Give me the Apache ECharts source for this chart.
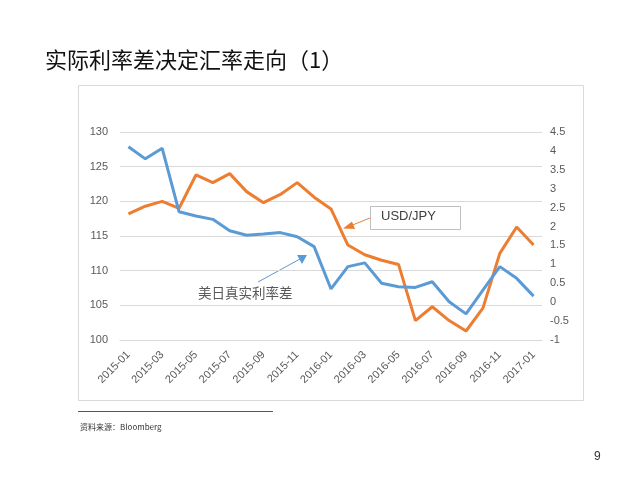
<!DOCTYPE html>
<html>
<head>
<meta charset="utf-8">
<script src="https://cdn.jsdelivr.net/npm/echarts@6/dist/echarts.min.js"></script>
<style>
  html, body { margin: 0; padding: 0; background: #fff; }
  #main { width: 640px; height: 495px; }
</style>
</head>
<body>
<div id="main"></div>
<script>
// 月份
const months = ['2015-01', '2015-02', '2015-03', '2015-04', '2015-05', '2015-06', '2015-07',
  '2015-08', '2015-09', '2015-10', '2015-11', '2015-12', '2016-01', '2016-02', '2016-03',
  '2016-04', '2016-05', '2016-06', '2016-07', '2016-08', '2016-09', '2016-10', '2016-11',
  '2016-12', '2017-01']
// USD/JPY（左轴）
const usdJpy = [118.2, 119.3, 120.0, 119.0, 123.8, 122.7, 124.0, 121.4, 119.8, 121.0, 122.7,
  120.6, 118.9, 113.7, 112.3, 111.5, 110.9, 102.8, 104.8, 102.8, 101.3, 104.6, 112.5, 116.3, 113.7]
// 美日真实利率差（右轴）
const rateDiff = [4.11, 3.79, 4.07, 2.39, 2.28, 2.19, 1.89, 1.77, 1.80, 1.84, 1.73, 1.47,
  0.35, 0.94, 1.04, 0.50, 0.41, 0.39, 0.54, 0.01, -0.31, 0.32, 0.94, 0.63, 0.16]

const chart = echarts.init(document.getElementById('main'))
const axisText = { color: '#595959', fontSize: 11, fontFamily: 'Liberation Sans' }

const option = {
  animation: false,
  backgroundColor: '#fff',
  title: {
    text: '实际利率差决定汇率走向（1）',
    left: 40,
    top: 44,
    textStyle: { fontFamily: 'Noto Sans CJK SC', fontSize: 22, fontWeight: 'normal', color: '#111' }
  },
  grid: { left: 120, right: 98, top: 132, bottom: 155 },
  xAxis: {
    type: 'category',
    data: months,
    boundaryGap: true,
    axisTick: { show: false },
    axisLine: { onZero: false, lineStyle: { color: '#d9d9d9' } },
    axisLabel: Object.assign({ rotate: 45, interval: 1, margin: 13 }, axisText)
  },
  yAxis: [
    {
      type: 'value', min: 100, max: 130, interval: 5,
      axisLabel: Object.assign({ margin: 12 }, axisText),
      splitLine: { lineStyle: { color: '#d9d9d9' } }
    },
    {
      type: 'value', min: -1, max: 4.5, interval: 0.5,
      axisLabel: Object.assign({ margin: 8 }, axisText),
      splitLine: { show: false }
    }
  ],
  series: [
    {
      name: 'USD/JPY', type: 'line', yAxisIndex: 0, data: usdJpy,
      symbol: 'none', lineStyle: { color: '#ED7D31', width: 3 }, itemStyle: { color: '#ED7D31' }
    },
    {
      name: '美日真实利率差', type: 'line', yAxisIndex: 1, data: rateDiff,
      symbol: 'none', lineStyle: { color: '#5B9BD5', width: 3 }, itemStyle: { color: '#5B9BD5' }
    }
  ],
  graphic: [
    // 图表外框
    { type: 'rect', shape: { x: 78.5, y: 85.5, width: 505, height: 315 },
      style: { fill: 'none', stroke: '#d9d9d9', lineWidth: 1 }, z: -1 },
    // USD/JPY 标注
    { type: 'rect', shape: { x: 370.5, y: 206.5, width: 90, height: 23 },
      style: { fill: '#fff', stroke: '#bfbfbf', lineWidth: 1 } },
    { type: 'text', left: 381, top: 210,
      style: { text: 'USD/JPY', fill: '#404040', fontSize: 13, fontFamily: 'Liberation Sans' } },
    { type: 'line', shape: { x1: 370, y1: 218, x2: 350, y2: 226 },
      style: { stroke: '#ED7D31', lineWidth: 1 } },
    { type: 'polygon', shape: { points: [[343, 228.5], [352, 221.5], [355, 229]] },
      style: { fill: '#ED7D31' } },
    // 利率差标注
    { type: 'text', left: 198, top: 286,
      style: { text: '美日真实利率差', fill: '#595959', fontSize: 13.5, fontFamily: 'Noto Sans CJK SC' } },
    { type: 'line', shape: { x1: 258, y1: 282, x2: 300, y2: 259 },
      style: { stroke: '#5B9BD5', lineWidth: 1 } },
    { type: 'polygon', shape: { points: [[307, 255], [297, 255], [302, 264]] },
      style: { fill: '#5B9BD5' } },
    // 脚注
    { type: 'line', shape: { x1: 78, y1: 411.5, x2: 273, y2: 411.5 },
      style: { stroke: '#555', lineWidth: 1 } },
    { type: 'text', left: 80, top: 423,
      style: { text: '资料来源：Bloomberg', fill: '#333', fontSize: 8, fontFamily: 'Noto Sans CJK SC' } },
    { type: 'text', left: 594, top: 451,
      style: { text: '9', fill: '#333', fontSize: 12, fontFamily: 'Liberation Sans' } }
  ]
}
chart.setOption(option)
</script>
</body>
</html>
